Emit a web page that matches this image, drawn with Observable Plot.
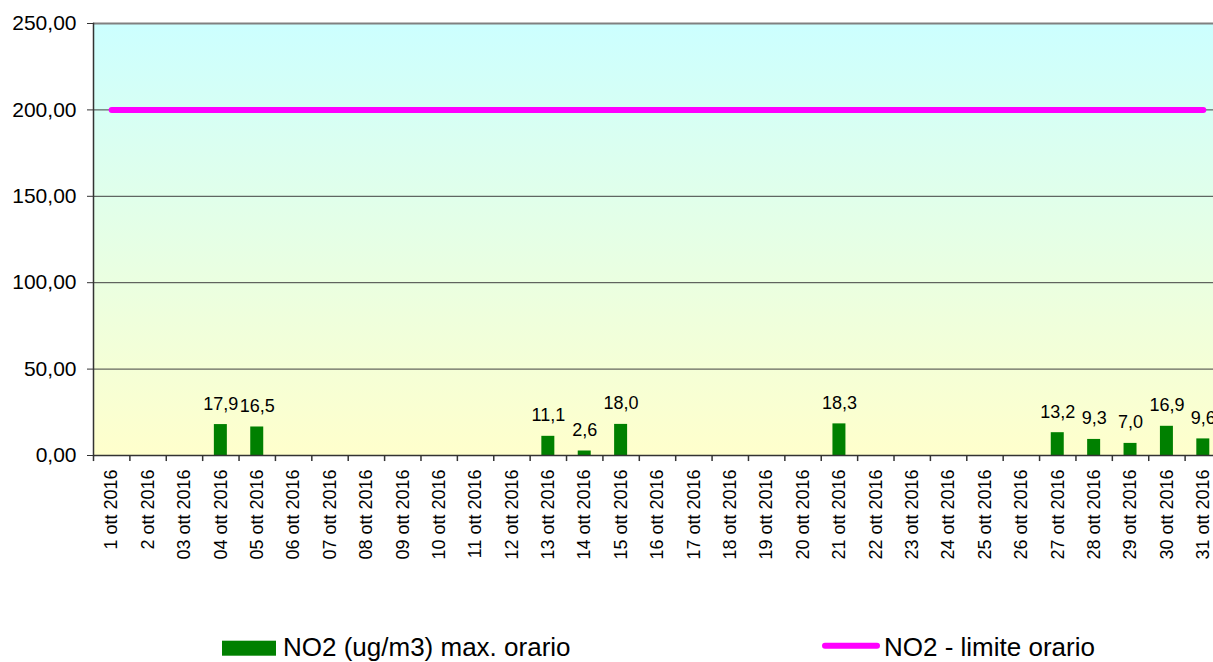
<!DOCTYPE html>
<html>
<head>
<meta charset="utf-8">
<script src="https://cdn.jsdelivr.net/npm/d3@7"></script>
<script src="https://cdn.jsdelivr.net/npm/@observablehq/plot@0.6"></script>
<style>
  html, body { margin: 0; padding: 0; background: #fff; overflow: hidden; }
  #chart svg, #legend svg { display: block; }
</style>
</head>
<body>
<div id="chart"></div>
<div id="legend"></div>
<script>
// ---- data ----
const days = ["1 ott 2016","2 ott 2016","03 ott 2016","04 ott 2016","05 ott 2016","06 ott 2016","07 ott 2016","08 ott 2016","09 ott 2016","10 ott 2016","11 ott 2016","12 ott 2016","13 ott 2016","14 ott 2016","15 ott 2016","16 ott 2016","17 ott 2016","18 ott 2016","19 ott 2016","20 ott 2016","21 ott 2016","22 ott 2016","23 ott 2016","24 ott 2016","25 ott 2016","26 ott 2016","27 ott 2016","28 ott 2016","29 ott 2016","30 ott 2016","31 ott 2016"];
const no2Max = [null,null,null,17.9,16.5,null,null,null,null,null,null,null,11.1,2.6,18.0,null,null,null,null,null,18.3,null,null,null,null,null,13.2,9.3,7.0,16.9,9.6];
const limitValues = [200,200,200,200,200,200,200,200,200,200,200,200,200,200,200,200,200,200,200,200,200,200,200,200,200,200,200,200,200,200,200];
const yTicks = [0,50,100,150,200,250];
const seriesNames = ["NO2 (ug/m3) max. orario", "NO2 - limite orario"];

const bars = days.map((d, i) => ({day: d, value: no2Max[i]})).filter(d => d.value != null);
const limit = days.map((d, i) => ({day: d, value: limitValues[i]}));

const W = 1213, H = 600;
const mLeft = 93, mTop = 23, yBottom = 455;
const plotRight = 1221;
const step = (plotRight - mLeft) / days.length;
const pInner = 0.643;

const FONT = "'Liberation Sans', Arial, sans-serif";
const comma = (v, n) => v.toFixed(n).replace(".", ",");

const bgMark = () => {
  const g = d3.create("svg:g");
  const lg = g.append("defs").append("linearGradient")
    .attr("id", "bgGrad").attr("x1", 0).attr("y1", 0).attr("x2", 0).attr("y2", 1);
  lg.append("stop").attr("offset", "0%").attr("stop-color", "#CCFFFF");
  lg.append("stop").attr("offset", "100%").attr("stop-color", "#FFFFCC");
  return g.node();
};

const chart = Plot.plot({
  width: W,
  height: H,
  marginLeft: mLeft,
  marginTop: mTop,
  marginBottom: H - yBottom,
  marginRight: 0,
  style: {fontFamily: FONT, background: "transparent", color: "#000"},
  x: {type: "band", domain: days, range: [mLeft, plotRight], round: false, paddingInner: pInner, paddingOuter: pInner / 2, align: 0.5, axis: null, label: null},
  y: {domain: [0, 250], range: [yBottom, mTop], axis: null, label: null},
  marks: [
    bgMark,
    Plot.frame({fill: "url(#bgGrad)", stroke: null}),
    Plot.ruleY([50, 100, 150, 200], {stroke: "#404040", strokeWidth: 1}),
    Plot.ruleY([250], {stroke: "#808080", strokeWidth: 2}),
    Plot.barY(bars, {x: "day", y: "value", fill: "#008000"}),
    Plot.lineY(limit, {x: "day", y: "value", stroke: "#FF00FF", strokeWidth: 6, strokeLinecap: "round"}),
    Plot.text(bars, {x: "day", y: "value", text: d => comma(d.value, 1), dy: -15, lineAnchor: "bottom", fontSize: 18, fill: "#000"}),
    Plot.ruleY([0], {stroke: "#333", strokeWidth: 1.5}),
    Plot.frame({anchor: "left", stroke: "#333", strokeWidth: 1.5}),
    Plot.ruleX(days, {x: d => d, dx: -step / 2, y1: 0, y2: -3.5, stroke: "#333", strokeWidth: 1.5}),
    Plot.axisY({ticks: yTicks, tickFormat: d => comma(d, 2), tickSize: 6, tickPadding: 11, fontSize: 21, stroke: "#333", label: null}),
    Plot.axisX({tickRotate: -90, tickSize: 0, tickPadding: 14, fontSize: 18, tickFormat: d => d, label: null})
  ]
});
document.getElementById("chart").appendChild(chart);

// ---- legend (below the chart SVG) ----
const leg = d3.select("#legend").append("svg")
  .attr("width", W).attr("height", 62)
  .style("font-family", FONT);
const LT = H; // legend offset from page top
leg.append("rect").attr("x", 222).attr("y", 640.7 - LT).attr("width", 54).attr("height", 15).attr("fill", "#008000");
leg.append("text").attr("x", 283).attr("y", 656 - LT).attr("font-size", 26).attr("fill", "#000").text(seriesNames[0]);
leg.append("line").attr("x1", 825).attr("x2", 877).attr("y1", 645.7 - LT).attr("y2", 645.7 - LT)
  .attr("stroke", "#FF00FF").attr("stroke-width", 6).attr("stroke-linecap", "round");
leg.append("text").attr("x", 884).attr("y", 656 - LT).attr("font-size", 26).attr("fill", "#000").text(seriesNames[1]);
</script>
</body>
</html>
